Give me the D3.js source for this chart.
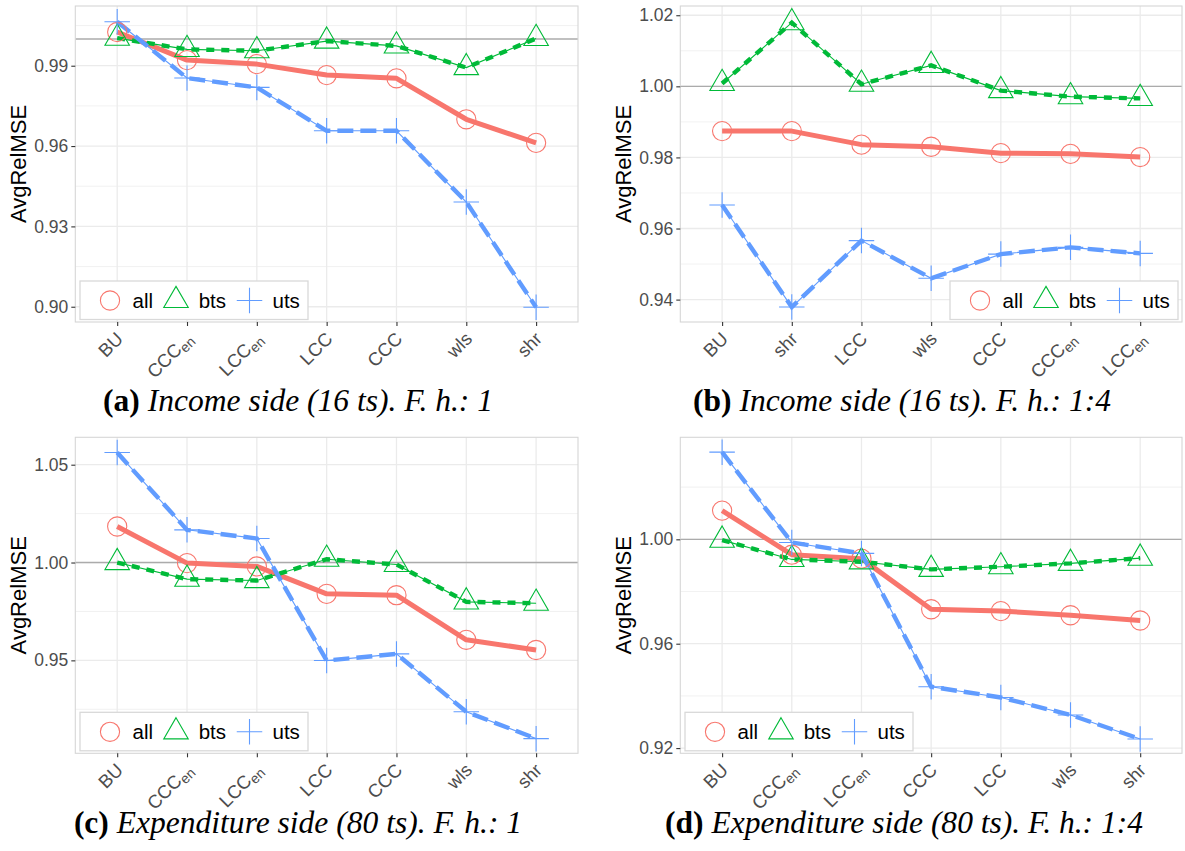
<!DOCTYPE html>
<html>
<head>
<meta charset="utf-8">
<script src="https://cdn.jsdelivr.net/npm/d3@7"></script>
<style>
  html, body { margin: 0; padding: 0; background: #fff; }
  svg { display: block; }
</style>
</head>
<body>
<svg id="fig" width="1185" height="851"></svg>
<script>
// Method order per panel ("_" marks a subscript)
const catsA = ["BU", "CCC_en", "LCC_en", "LCC", "CCC", "wls", "shr"];
const catsB = ["BU", "shr", "LCC", "wls", "CCC", "CCC_en", "LCC_en"];
const catsC = ["BU", "CCC_en", "LCC_en", "LCC", "CCC", "wls", "shr"];
const catsD = ["BU", "CCC_en", "LCC_en", "CCC", "LCC", "wls", "shr"];

// AvgRelMSE — (a) income side, horizon 1
const allA = [1.0026, 0.9921, 0.9906, 0.9865, 0.9853, 0.9700, 0.9612];
const btsA = [1.0003, 0.9961, 0.9956, 0.9992, 0.9974, 0.9893, 1.0002];
const utsA = [1.0064, 0.9854, 0.9819, 0.9657, 0.9657, 0.9391, 0.8998];

// (b) income side, horizons 1:4
const allB = [0.9874, 0.9874, 0.9836, 0.9830, 0.9812, 0.9810, 0.9801];
const btsB = [1.0008, 1.0179, 1.0006, 1.0059, 0.9988, 0.9971, 0.9966];
const utsB = [0.9666, 0.9379, 0.9566, 0.9460, 0.9528, 0.9547, 0.9530];

// (c) expenditure side, horizon 1
const allC = [1.0184, 0.9997, 0.9980, 0.9840, 0.9833, 0.9605, 0.9553];
const btsC = [1.0000, 0.9915, 0.9908, 1.0017, 0.9990, 0.9799, 0.9792];
const utsC = [1.0562, 1.0167, 1.0123, 0.9499, 0.9533, 0.9237, 0.9100];

// (d) expenditure side, horizons 1:4
const allD = [1.0110, 0.9941, 0.9926, 0.9732, 0.9725, 0.9709, 0.9689];
const btsD = [0.9997, 0.9923, 0.9914, 0.9885, 0.9895, 0.9908, 0.9928];
const utsD = [1.0334, 0.9988, 0.9946, 0.9435, 0.9394, 0.9327, 0.9235];

// y tick labels
const ticksA = ["0.90", "0.93", "0.96", "0.99"];
const ticksB = ["0.94", "0.96", "0.98", "1.00", "1.02"];
const ticksC = ["0.95", "1.00", "1.05"];
const ticksD = ["0.92", "0.96", "1.00"];

// minor grid values
const minorA = [0.915, 0.945, 0.975, 1.005];
const minorB = [0.95, 0.97, 0.99, 1.01];
const minorC = [0.925, 0.975, 1.025];
const minorD = [0.94, 0.98, 1.02];

const seriesNames = ["all", "bts", "uts"];
const captionTags = ["(a)", "(b)", "(c)", "(d)"];
const captionTexts = [
  "Income side (16 ts). F. h.: 1",
  "Income side (16 ts). F. h.: 1:4",
  "Expenditure side (80 ts). F. h.: 1",
  "Expenditure side (80 ts). F. h.: 1:4"
];

// ---- styling ----
const colors = { all: "#F8766D", bts: "#00BA38", uts: "#619CFF" };
const SANS = "'Liberation Sans', Arial, Helvetica, sans-serif";
const SERIF = "'Liberation Serif', 'Times New Roman', serif";

const svg = d3.select("#fig");
svg.append("rect").attr("width", 1185).attr("height", 851).attr("fill", "#fff");

const panels = [
  { cats: catsA, all: allA, bts: btsA, uts: utsA, ticks: ticksA, minor: minorA,
    domain: [0.8943, 1.0123], box: [75.3, 578, 6, 322], legend: [80, 281], titleX: 26 },
  { cats: catsB, all: allB, bts: btsB, uts: utsB, ticks: ticksB, minor: minorB,
    domain: [0.9337, 1.0226], box: [680.3, 1182, 6, 322], legend: [950, 281], titleX: 631 },
  { cats: catsC, all: allC, bts: btsC, uts: utsC, ticks: ticksC, minor: minorC,
    domain: [0.9025, 1.064], box: [75.3, 578, 437.3, 753.3], legend: [80, 712.3], titleX: 26 },
  { cats: catsD, all: allD, bts: btsD, uts: utsD, ticks: ticksD, minor: minorD,
    domain: [0.918, 1.0391], box: [680.3, 1182, 437.3, 753.3], legend: [685, 712.3], titleX: 631 }
];

function triPath(cx, cy, side) {
  const h = side * Math.sqrt(3) / 2;
  return `M${cx},${cy - 2 * h / 3}L${cx + side / 2},${cy + h / 3}L${cx - side / 2},${cy + h / 3}Z`;
}
function plusPath(cx, cy, s) {
  return `M${cx - s / 2},${cy}H${cx + s / 2}M${cx},${cy - s / 2}V${cy + s / 2}`;
}

function drawMarker(g, name, cx, cy) {
  if (name === "all") {
    g.append("circle").attr("cx", cx).attr("cy", cy).attr("r", 9.6)
      .attr("fill", "none").attr("stroke", colors.all).attr("stroke-width", 1.1);
  } else if (name === "bts") {
    g.append("path").attr("d", triPath(cx, cy, 24.5))
      .attr("fill", "none").attr("stroke", colors.bts).attr("stroke-width", 1.1);
  } else {
    g.append("path").attr("d", plusPath(cx, cy, 25.5))
      .attr("fill", "none").attr("stroke", colors.uts).attr("stroke-width", 1.1);
  }
}

function writeCat(textSel, label) {
  const parts = label.split("_");
  textSel.text(null);
  textSel.append("tspan").text(parts[0]);
  if (parts.length > 1) {
    textSel.append("tspan").attr("font-size", 14).attr("dy", 3.5).text(parts[1]);
  }
}

panels.forEach(p => {
  const [x0, x1, y0, y1] = p.box;
  const x = d3.scalePoint().domain(p.cats).range([x0, x1]).padding(0.6);
  const y = d3.scaleLinear().domain(p.domain).range([y1, y0]);
  const g = svg.append("g");

  // grid
  g.append("g").selectAll("line").data(p.minor).join("line")
    .attr("x1", x0).attr("x2", x1).attr("y1", d => y(d)).attr("y2", d => y(d))
    .attr("stroke", "#EEEEEE").attr("stroke-width", 0.8);
  const tickVals = p.ticks.map(Number);
  g.append("g").selectAll("line").data(tickVals).join("line")
    .attr("x1", x0).attr("x2", x1).attr("y1", d => y(d)).attr("y2", d => y(d))
    .attr("stroke", "#EBEBEB").attr("stroke-width", 1.3);
  g.append("g").selectAll("line").data(p.cats).join("line")
    .attr("x1", d => x(d)).attr("x2", d => x(d)).attr("y1", y0).attr("y2", y1)
    .attr("stroke", "#EBEBEB").attr("stroke-width", 1.3);

  // reference line at 1
  g.append("line").attr("x1", x0).attr("x2", x1).attr("y1", y(1)).attr("y2", y(1))
    .attr("stroke", "#ABABAB").attr("stroke-width", 1.4);

  // lines
  const line = d3.line().x((d, i) => x(p.cats[i])).y(d => y(d));
  g.append("path").attr("d", line(p.all)).attr("fill", "none")
    .attr("stroke", colors.all).attr("stroke-width", 5).attr("stroke-linejoin", "round");
  g.append("path").attr("d", line(p.bts)).attr("fill", "none")
    .attr("stroke", colors.bts).attr("stroke-width", 1.1);
  g.append("path").attr("d", line(p.bts)).attr("fill", "none")
    .attr("stroke", colors.bts).attr("stroke-width", 4.4).attr("stroke-dasharray", "8,7");
  g.append("path").attr("d", line(p.uts)).attr("fill", "none")
    .attr("stroke", colors.uts).attr("stroke-width", 1.1);
  g.append("path").attr("d", line(p.uts)).attr("fill", "none")
    .attr("stroke", colors.uts).attr("stroke-width", 4.4).attr("stroke-dasharray", "16,7");

  // points
  seriesNames.forEach(s => {
    p[s].forEach((v, i) => drawMarker(g, s, x(p.cats[i]), y(v)));
  });

  // panel border
  g.append("rect").attr("x", x0).attr("y", y0).attr("width", x1 - x0).attr("height", y1 - y0)
    .attr("fill", "none").attr("stroke", "#D6D6D6").attr("stroke-width", 1.1);

  // y axis
  const yAxis = d3.axisLeft(y).tickValues(tickVals)
    .tickFormat((d, i) => p.ticks[i]).tickSize(4).tickPadding(3);
  const ya = g.append("g").attr("transform", `translate(${x0},0)`).call(yAxis);
  ya.select(".domain").remove();
  ya.selectAll(".tick line").attr("stroke", "#333333").attr("stroke-width", 1.1);
  ya.selectAll(".tick text").attr("fill", "#4D4D4D").attr("font-size", 17.5)
    .attr("font-family", SANS);

  // x axis
  const xAxis = d3.axisBottom(x).tickSize(4).tickFormat("");
  const xa = g.append("g").attr("transform", `translate(0,${y1})`).call(xAxis);
  xa.select(".domain").remove();
  xa.selectAll(".tick line").attr("stroke", "#333333").attr("stroke-width", 1.1);
  p.cats.forEach(c => {
    const t = g.append("text")
      .attr("transform", `translate(${x(c) + 7},${y1 + 18}) rotate(-45)`)
      .attr("text-anchor", "end").attr("fill", "#4D4D4D")
      .attr("font-size", 18.5).attr("font-family", SANS);
    writeCat(t, c);
  });

  // y title
  g.append("text")
    .attr("transform", `translate(${p.titleX},${(y0 + y1) / 2}) rotate(-90)`)
    .attr("text-anchor", "middle").attr("font-size", 22).attr("font-family", SANS)
    .attr("fill", "#000").text("AvgRelMSE");

  // legend
  const [lx, ly] = p.legend;
  const lg = g.append("g");
  lg.append("rect").attr("x", lx).attr("y", ly).attr("width", 228).attr("height", 38.5)
    .attr("fill", "#fff").attr("stroke", "#D9D9D9").attr("stroke-width", 1.3);
  const cy = ly + 19.5;
  const keyX = { all: 30, bts: 96, uts: 169.5 };
  const txtX = { all: 52.5, bts: 118.7, uts: 192.5 };
  seriesNames.forEach(s => {
    drawMarker(lg, s, lx + keyX[s], cy);
    lg.append("text").attr("x", lx + txtX[s]).attr("y", cy + 7.3)
      .attr("font-size", 20.5).attr("font-family", SANS).attr("fill", "#000").text(s);
  });
});

// captions
const capPos = [[294, 411], [898, 411], [294, 833], [900, 833]];
const capGroups = captionTexts.map((txt, i) => {
  const t = svg.append("text").attr("font-family", SERIF).attr("font-size", 20)
    .attr("fill", "#000").attr("y", capPos[i][1]);
  t.append("tspan").attr("font-weight", "bold").text(captionTags[i]);
  t.append("tspan").attr("font-style", "italic").attr("dx", 8).text(txt);
  return t;
});
// size captions so that the first one spans its measured width
const w0 = capGroups[0].node().getComputedTextLength();
const fs = 20 * 382 / w0;
capGroups.forEach((t, i) => {
  t.attr("font-size", fs);
  const w = t.node().getComputedTextLength();
  t.attr("x", capPos[i][0] - w / 2);
});
</script>
</body>
</html>
